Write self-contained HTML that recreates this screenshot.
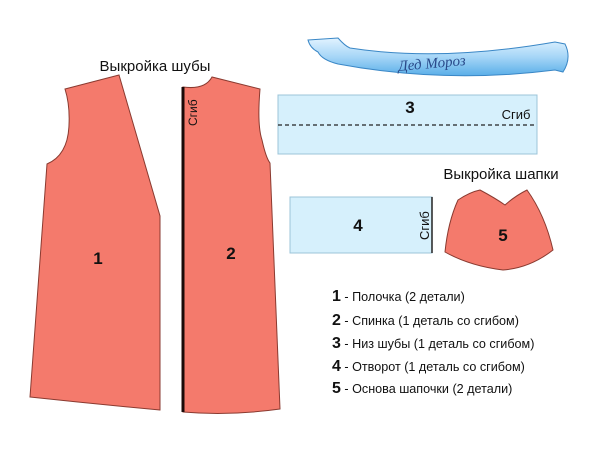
<!DOCTYPE html>
<html><head><meta charset="utf-8"><style>
html,body{margin:0;padding:0;background:#fff;}
svg{display:block;font-family:"Liberation Sans",sans-serif;}
</style></head><body>
<svg width="600" height="450" viewBox="0 0 600 450" xmlns="http://www.w3.org/2000/svg">
<defs>
<linearGradient id="bg" x1="0" y1="0" x2="0" y2="1">
<stop offset="0" stop-color="#e2f3ff"/><stop offset="0.5" stop-color="#a6d6f7"/><stop offset="1" stop-color="#5aaee8"/>
</linearGradient>
</defs>
<!-- banner -->
<path d="M308,40 L338,38 Q345,46 350,48 Q440,62 555,42 L565,44 Q572,58 563,72 L555,70 Q445,84 338,64 Q322,60 318,52 Q310,48 308,40 Z" fill="url(#bg)" stroke="#3a87c6" stroke-width="1"/>
<text x="432" y="68" font-family="'Liberation Serif',serif" font-style="italic" font-size="15" fill="#2a4a8a" text-anchor="middle" transform="rotate(-5 432 64)">Дед Мороз</text>

<text x="155" y="71" font-size="15" text-anchor="middle" fill="#111">Выкройка шубы</text>
<!-- piece 1 -->
<path d="M65,89 L119,75 L160,216 L160,410 Q95,404 30,397 L47,164 Q68,155 69,125 Q70,105 65,89 Z" fill="#f47a6c" stroke="#8a3a30" stroke-width="1"/>
<text x="98" y="264" font-size="17" font-weight="bold" text-anchor="middle" fill="#111">1</text>
<!-- piece 2 -->
<path d="M183,87 Q205,90 212,77 L260,89 Q257,125 262,140 Q266,158 270,163 L280,409 Q230,416 183,412 Z" fill="#f47a6c" stroke="#8a3a30" stroke-width="1"/>
<line x1="183" y1="87" x2="183" y2="412" stroke="#1a0a08" stroke-width="3"/>
<text x="0" y="0" font-size="12" fill="#111" transform="translate(197,126) rotate(-90)">Сгиб</text>
<text x="231" y="259" font-size="17" font-weight="bold" text-anchor="middle" fill="#111">2</text>
<!-- rect 3 -->
<rect x="278" y="95" width="259" height="59" fill="#d6f0fc" stroke="#9cc4d8" stroke-width="1"/>
<line x1="278" y1="125" x2="537" y2="125" stroke="#222" stroke-width="1.3" stroke-dasharray="4,3"/>
<text x="410" y="113" font-size="17" font-weight="bold" text-anchor="middle" fill="#111">3</text>
<text x="516" y="119" font-size="13" text-anchor="middle" fill="#111">Сгиб</text>
<!-- rect 4 -->
<rect x="290" y="197" width="142" height="56" fill="#d6f0fc" stroke="#9cc4d8" stroke-width="1"/>
<line x1="432" y1="197" x2="432" y2="253" stroke="#222" stroke-width="1.5"/>
<text x="358" y="231" font-size="17" font-weight="bold" text-anchor="middle" fill="#111">4</text>
<text x="0" y="0" font-size="13" fill="#111" transform="translate(429,240) rotate(-90)">Сгиб</text>
<!-- hat -->
<text x="501" y="179" font-size="15" text-anchor="middle" fill="#111">Выкройка шапки</text>
<path d="M458,200 Q470,192 480,190 Q495,198 505,205 Q515,196 527,190 Q545,215 553,250 Q530,268 503,270 Q470,266 445,252 Q448,222 458,200 Z" fill="#f47a6c" stroke="#8a3a30" stroke-width="1"/>
<text x="503" y="241" font-size="17" font-weight="bold" text-anchor="middle" fill="#111">5</text>
<!-- legend -->
<g fill="#111" font-size="12.6">
<text x="332" y="301"><tspan font-size="16" font-weight="bold">1</tspan> - Полочка (2 детали)</text>
<text x="332" y="325"><tspan font-size="16" font-weight="bold">2</tspan> - Спинка (1 деталь со сгибом)</text>
<text x="332" y="348"><tspan font-size="16" font-weight="bold">3</tspan> - Низ шубы (1 деталь со сгибом)</text>
<text x="332" y="371"><tspan font-size="16" font-weight="bold">4</tspan> - Отворот (1 деталь со сгибом)</text>
<text x="332" y="393"><tspan font-size="16" font-weight="bold">5</tspan> - Основа шапочки (2 детали)</text>
</g>
</svg>
</body></html>
